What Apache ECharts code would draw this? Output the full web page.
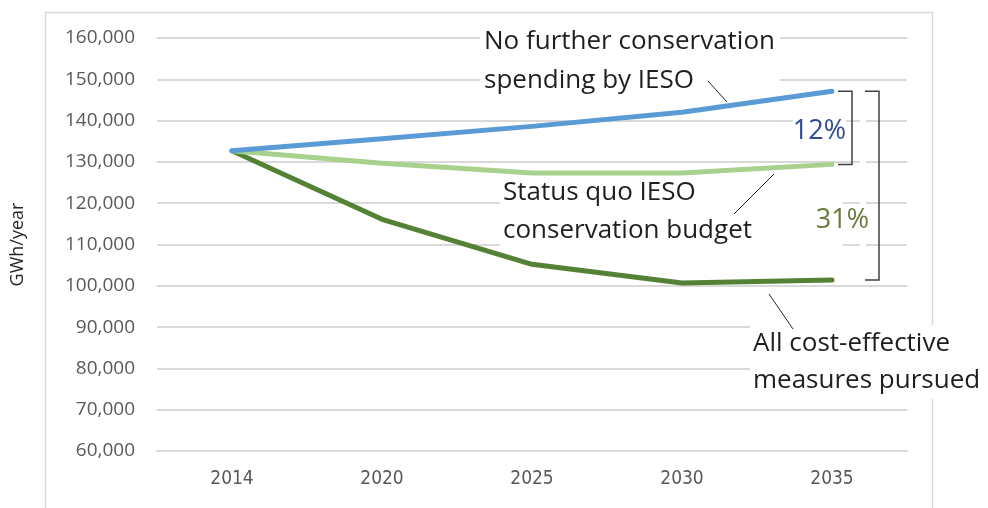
<!DOCTYPE html>
<html>
<head>
<meta charset="utf-8">
<script src="https://cdn.jsdelivr.net/npm/echarts@6/dist/echarts.min.js"></script>
<style>
html,body{margin:0;padding:0;background:#fff;}
#chart{width:988px;height:508px;}
</style>
</head>
<body>
<div id="chart"></div>
<script>
const years = ['2014', '2020', '2025', '2030', '2035'];
const noFurther = [132700, 135600, 138600, 142000, 147100];
const statusQuo = [132700, 129700, 127300, 127300, 129400];
const allCostEffective = [132700, 116100, 105200, 100700, 101400];
const yTicks = {min: 60000, max: 160000, interval: 10000};
const pctSmall = '12%';
const pctLarge = '31%';

const chart = echarts.init(document.getElementById('chart'), null, {renderer: 'canvas'});

function lineSeries(name, data, color) {
  return {
    name: name, type: 'line', data: data, symbol: 'none', smooth: false,
    lineStyle: {color: color, width: 5, cap: 'round', join: 'round'},
    z: 5
  };
}

const option = {
  animation: false,
  backgroundColor: '#ffffff',
  grid: {left: 157, right: 81, top: 38, bottom: 57, containLabel: false},
  xAxis: {
    type: 'category', data: years, boundaryGap: true,
    axisLine: {show: true, lineStyle: {color: '#d9d9d9', width: 2}},
    axisTick: {show: false},
    axisLabel: {color: '#595959', fontSize: 19, margin: 19, fontFamily: 'DejaVu Sans Condensed'}
  },
  yAxis: {
    type: 'value', min: yTicks.min, max: yTicks.max, interval: yTicks.interval,
    name: 'GWh/year', nameLocation: 'middle', nameGap: 130, nameRotate: 90,
    nameTextStyle: {color: '#262626', fontSize: 18, fontFamily: 'Open Sans'},
    axisLine: {show: false}, axisTick: {show: false},
    splitLine: {lineStyle: {color: '#d9d9d9', width: 2}},
    axisLabel: {
      color: '#595959', fontSize: 19, margin: 22, fontFamily: 'Open Sans',
      formatter: v => v.toLocaleString('en-US')
    }
  },
  series: [
    lineSeries('All cost-effective measures pursued', allCostEffective, '#548235'),
    lineSeries('Status quo IESO conservation budget', statusQuo, '#A9D18E'),
    lineSeries('No further conservation spending by IESO', noFurther, '#5B9BD5')
  ]
};
chart.setOption(option);

const last = years.length - 1;
const yTop = chart.convertToPixel({yAxisIndex: 0}, noFurther[last]);
const yMid = chart.convertToPixel({yAxisIndex: 0}, statusQuo[last]);
const yBot = chart.convertToPixel({yAxisIndex: 0}, allCostEffective[last]);

const annFont = '26px "Open Sans"';
const brk = {stroke: '#404040', lineWidth: 1.5, fill: null};

chart.setOption({
  graphic: [
    {type: 'rect', z: 1, shape: {x: 45.5, y: 12.5, width: 887, height: 520}, style: {stroke: '#d9d9d9', lineWidth: 1.5, fill: null}, silent: true},
    {type: 'rect', z: 2, shape: {x: 860, y: yTop, width: 6, height: yBot - yTop}, style: {fill: '#ffffff'}},
    // annotation texts (below lines)
    {type: 'text', z: 2, style: {text: 'No further conservation\nspending by IESO', x: 480, y: 22, font: annFont, lineHeight: 39, fill: '#1f1f1f', backgroundColor: '#ffffff', padding: [0, 5, 0, 4]}},
    {type: 'text', z: 2, style: {text: 'Status quo IESO\nconservation budget', x: 500, y: 174, font: annFont, lineHeight: 38, fill: '#1f1f1f', backgroundColor: '#ffffff', padding: [0, 85, 0, 3], width: 255}},
    {type: 'text', z: 2, style: {text: 'All cost-effective\nmeasures pursued', x: 750, y: 325, font: annFont, lineHeight: 37, fill: '#1f1f1f', backgroundColor: '#ffffff', padding: [0, 10, 0, 3]}},
    // brackets
    {type: 'polyline', z: 8, shape: {points: [[838, yTop], [852, yTop], [852, yMid], [838, yMid]]}, style: brk},
    {type: 'polyline', z: 8, shape: {points: [[865, yTop], [879, yTop], [879, yBot], [865, yBot]]}, style: brk},
    {type: 'text', z: 8, style: {text: pctSmall, x: 846, y: 131, align: 'right', verticalAlign: 'middle', font: '27px "Open Sans"', fill: '#2F4B99', backgroundColor: '#ffffff'}},
    {type: 'text', z: 8, style: {text: pctLarge, x: 869, y: 220, align: 'right', verticalAlign: 'middle', font: '27px "Open Sans"', fill: '#6A7B3E'}},
    // leader lines
    {type: 'line', z: 8, shape: {x1: 708, y1: 81, x2: 727, y2: 102}, style: {stroke: '#262626', lineWidth: 1}},
    {type: 'line', z: 8, shape: {x1: 774, y1: 174, x2: 734, y2: 214}, style: {stroke: '#262626', lineWidth: 1}},
    {type: 'line', z: 8, shape: {x1: 769, y1: 294, x2: 793, y2: 329}, style: {stroke: '#262626', lineWidth: 1}}
  ]
});
</script>
</body>
</html>
